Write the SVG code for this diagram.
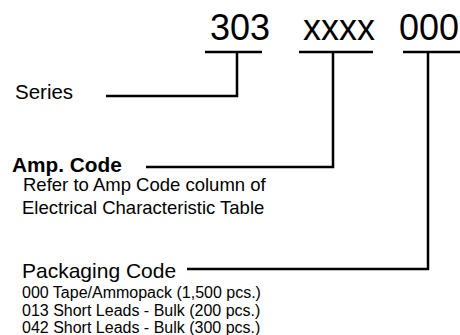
<svg xmlns="http://www.w3.org/2000/svg" width="460" height="335" viewBox="0 0 460 335">
<style>
text{font-family:"Liberation Sans",Arial,sans-serif;fill:#000}
.big{font-size:36px}
.lbl{font-size:20.5px}
.sub{font-size:18.5px}
.pk{font-size:16px}
.ln{fill:none;stroke:#000;stroke-width:2.5}
</style>
<rect width="460" height="335" fill="#fff"/>
<g id="code">
<text class="big" x="210" y="40">303</text>
<text class="big" x="303" y="40">xxxx</text>
<text class="big" x="399" y="40">000</text>
</g>
<g id="connectors">
<line class="ln" x1="205" y1="52" x2="262" y2="52"/>
<line class="ln" x1="299" y1="52" x2="373" y2="52"/>
<line class="ln" x1="403" y1="52" x2="460" y2="52"/>
<path class="ln" d="M237,52 V96 H106"/>
<path class="ln" d="M333,52 V167 H146"/>
<path class="ln" d="M428,52 V269 H187"/>
</g>
<g id="series">
<text class="lbl" x="15" y="98.5">Series</text>
</g>
<g id="amp">
<text class="lbl" x="12" y="172" font-weight="bold" style="font-size:20.8px">Amp. Code</text>
<text class="sub" x="23" y="191">Refer to Amp Code column of</text>
<text class="sub" x="22" y="213.5">Electrical Characteristic Table</text>
</g>
<g id="packaging">
<text class="lbl" x="22" y="277.5" style="font-size:21px">Packaging Code</text>
<text class="pk" x="22" y="298">000 Tape/Ammopack (1,500 pcs.)</text>
<text class="pk" x="22" y="315.5">013 Short Leads - Bulk (200 pcs.)</text>
<text class="pk" x="22" y="333">042 Short Leads - Bulk (300 pcs.)</text>
</g>
</svg>
